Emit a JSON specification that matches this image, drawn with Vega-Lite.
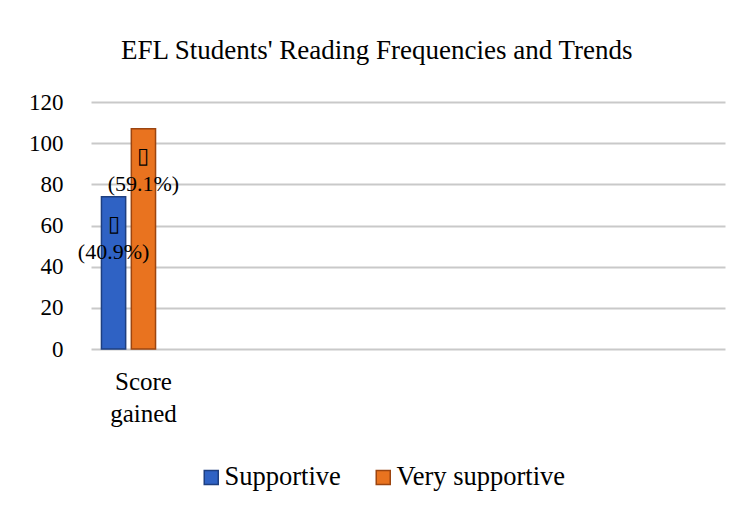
{
  "$schema": "https://vega.github.io/schema/vega-lite/v6.json",
  "width": 634,
  "height": 247,
  "autosize": {"type": "none"},
  "padding": {"left": 91, "top": 102, "right": 22, "bottom": 164},
  "background": "white",
  "config": {"view": {"stroke": null}},
  "title": {
    "text": "EFL Students' Reading Frequencies and Trends",
    "font": "Liberation Serif",
    "fontSize": 27,
    "fontWeight": "normal",
    "color": "#000000",
    "offset": 26,
    "anchor": "middle",
    "frame": "bounds"
  },
  "data": {
    "values": [
      {"category": "Score gained", "series": "Supportive", "value": 74, "label": "▯\n(40.9%)"},
      {"category": "Score gained", "series": "Very supportive", "value": 107, "label": "▯\n(59.1%)"}
    ]
  },
  "encoding": {
    "x": {
      "field": "category",
      "type": "nominal",
      "scale": {
        "domain": ["Score gained", " 1", " 2", " 3", " 4", " 5", " 6", " 7"],
        "paddingInner": 0,
        "paddingOuter": 0.227,
        "align": 0
      },
      "axis": {
        "title": null,
        "domain": false,
        "ticks": false,
        "grid": false,
        "labelAngle": 0,
        "labelFont": "Liberation Serif",
        "labelFontSize": 25,
        "labelColor": "#000000",
        "labelExpr": "datum.value == 'Score gained' ? split(datum.label, ' ') : ''",
        "labelLineHeight": 32,
        "labelPadding": 20,
        "labelOffset": 15
      }
    },
    "xOffset": {
      "field": "series",
      "type": "nominal",
      "scale": {"paddingInner": 0.19, "paddingOuter": 0.35}
    },
    "y": {
      "field": "value",
      "type": "quantitative",
      "scale": {"domain": [0, 120]},
      "axis": {
        "title": null,
        "values": [0, 20, 40, 60, 80, 100, 120],
        "domain": false,
        "ticks": false,
        "grid": true,
        "gridColor": "#C9C9C9",
        "gridWidth": 2,
        "labelFont": "Liberation Serif",
        "labelFontSize": 23,
        "labelColor": "#000000",
        "labelPadding": 28
      }
    }
  },
  "layer": [
    {
      "mark": {"type": "bar", "strokeWidth": 1.5},
      "encoding": {
        "color": {
          "field": "series",
          "type": "nominal",
          "scale": {"domain": ["Supportive", "Very supportive"], "range": ["#2F62C4", "#E9731F"]},
          "legend": {
            "title": null,
            "orient": "none",
            "legendX": 107,
            "legendY": 362,
            "padding": 0,
            "direction": "horizontal",
            "symbolType": "square",
            "symbolSize": 196,
            "symbolStrokeWidth": 1.5,
            "labelFont": "Liberation Serif",
            "labelFontSize": 26.5,
            "labelColor": "#000000",
            "labelOffset": 0,
            "columnPadding": 29,
            "labelLimit": 300
          }
        },
        "stroke": {
          "field": "series",
          "type": "nominal",
          "scale": {"domain": ["Supportive", "Very supportive"], "range": ["#1E3F80", "#9C4510"]},
          "legend": null
        }
      }
    },
    {
      "mark": {
        "type": "text",
        "font": "Liberation Serif",
        "fontSize": 22,
        "color": "#000000",
        "lineBreak": "\n",
        "lineHeight": 28,
        "baseline": "middle",
        "dy": 27
      },
      "encoding": {
        "text": {"field": "label"}
      }
    }
  ]
}
